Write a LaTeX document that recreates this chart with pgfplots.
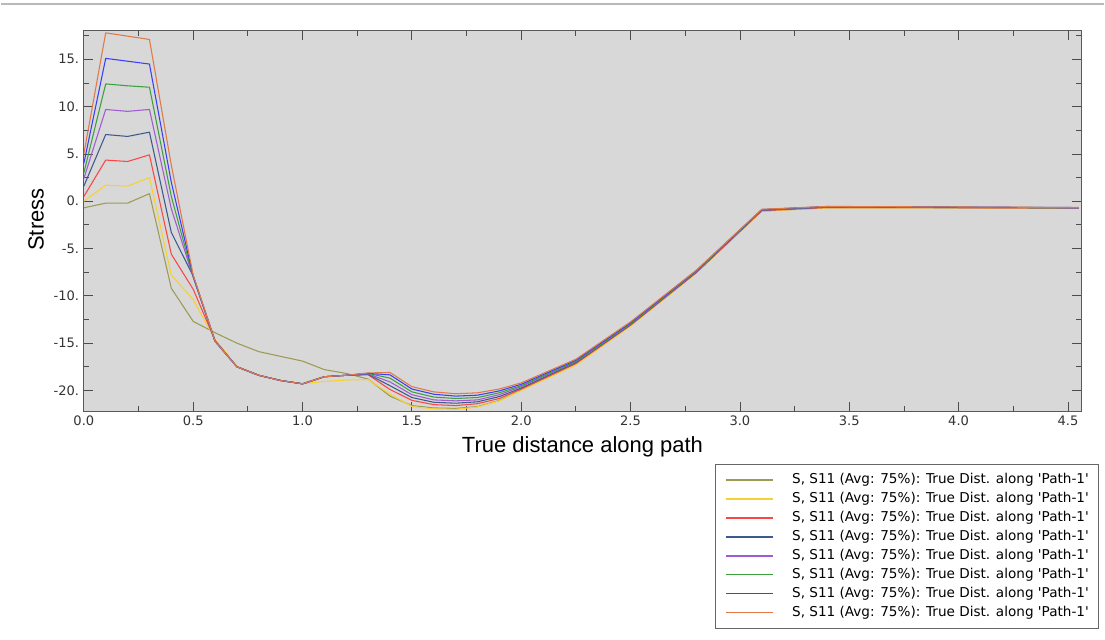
\documentclass[border=0pt]{standalone}
\usepackage{fontspec}
\usepackage{pgfplots}
\usepackage{pgfplotstable}
\pgfplotsset{compat=1.18}
\newfontfamily\vfont{DejaVu Sans}
\newfontfamily\afont{Liberation Sans}
\definecolor{bggray}{RGB}{216,216,216}
\definecolor{cOl}{RGB}{155,155,85}
\definecolor{cYe}{RGB}{245,210,50}
\definecolor{cRe}{RGB}{250,70,70}
\definecolor{cDb}{RGB}{60,90,140}
\definecolor{cPu}{RGB}{160,90,210}
\definecolor{cGr}{RGB}{60,160,60}
\definecolor{cBl}{RGB}{60,60,250}
\definecolor{cOr}{RGB}{225,120,70}
\pgfplotstableread{
x     ol      ye      re      db      pu      gr      bl      or
0.0   -0.7    0.0     0.5     1.6     2.4     3.0     4.0     5.0
0.1   -0.2    1.7     4.35    7.05    9.7     12.4    15.1    17.8
0.2   -0.2    1.6     4.2     6.85    9.5     12.2    14.8    17.45
0.3    0.8    2.5     4.9     7.3     9.7     12.05   14.5    17.1
0.4   -9.2   -7.8    -5.6    -3.3    -0.8     0.5     2.0     3.8
0.5  -12.7  -10.4    -9.3    -7.9    -8.0    -8.0    -7.9    -7.8
0.6  -13.9  -14.6   -14.7   -14.8   -14.8   -14.8   -14.8   -14.8
0.7  -15.0  -17.45  -17.5   -17.5   -17.5   -17.5   -17.5   -17.5
0.8  -15.9  -18.4   -18.4   -18.4   -18.4   -18.4   -18.4   -18.4
0.9  -16.4  -18.95  -18.95  -18.95  -18.95  -18.95  -18.95  -18.95
1.0  -16.9  -19.3   -19.3   -19.3   -19.3   -19.3   -19.3   -19.3
1.1  -17.8  -19.05  -18.55  -18.55  -18.55  -18.55  -18.55  -18.55
1.2  -18.2  -18.9   -18.4   -18.4   -18.4   -18.4   -18.4   -18.4
1.3  -18.8  -18.85  -18.35  -18.3   -18.25  -18.2   -18.2   -18.15
1.4  -20.6  -20.4   -19.9   -19.5   -19.1   -18.7   -18.35  -18.1
1.5  -21.6  -21.7   -21.05  -20.75  -20.45  -20.15  -19.85  -19.6
1.6  -21.85 -21.95  -21.5   -21.25  -21.0   -20.7   -20.4   -20.15
1.7  -21.9  -22.0   -21.6   -21.35  -21.1   -20.85  -20.6   -20.35
1.8  -21.7  -21.75  -21.4   -21.2   -21.0   -20.75  -20.5   -20.25
1.9  -21.05 -21.1   -20.85  -20.65  -20.45  -20.25  -20.05  -19.85
2.0  -19.95 -20.0   -19.85  -19.75  -19.6   -19.5   -19.35  -19.2
2.25 -17.25 -17.3   -17.15  -17.05  -16.95  -16.9   -16.8   -16.7
2.5  -13.15 -13.2   -13.1   -13.05  -13.0   -12.95  -12.85  -12.75
2.8  -7.6   -7.6    -7.55   -7.5    -7.45   -7.4    -7.35   -7.3
3.1  -1.05  -1.05   -1.0    -0.97   -0.94   -0.91   -0.88   -0.85
3.4  -0.7   -0.7    -0.66   -0.63   -0.6    -0.58   -0.56   -0.55
4.55 -0.72  -0.72   -0.71   -0.7    -0.69   -0.68   -0.67   -0.66
}\datatable
\begin{document}
\begin{tikzpicture}
\begin{axis}[
  at={(0pt,0pt)}, anchor=south west,
  scale only axis, width=749.25pt, height=285.75pt,
  xmin=0, xmax=4.56, ymin=-22.2, ymax=18,
  axis background/.style={fill=bggray},
  axis line style={draw=black!65, line width=0.8pt},
  xtick={0,0.5,1,1.5,2,2.5,3,3.5,4,4.5},
  xticklabels={0.0,0.5,1.0,1.5,2.0,2.5,3.0,3.5,4.0,4.5},
  minor xtick={0.25,0.75,1.25,1.75,2.25,2.75,3.25,3.75,4.25},
  ytick={-20,-15,-10,-5,0,5,10,15},
  yticklabels={-20.,-15.,-10.,-5.,0.,5.,10.,15.},
  minor ytick={-17.5,-12.5,-7.5,-2.5,2.5,7.5,12.5,17.5},
  tick align=inside, tick pos=both,
  major tick length=6.75pt, minor tick length=3.75pt,
  tick style={black!70, line width=0.6pt},
  ticklabel style={font=\vfont\fontsize{9.8}{11}\selectfont, text=black!80},
  xlabel={True distance along path},
  ylabel={Stress},
  label style={font=\afont\fontsize{16.5}{18}\selectfont, text=black},
  xlabel style={at={(axis description cs:0.5,0)}, anchor=center, yshift=-27pt},
  ylabel style={at={(axis description cs:-0.048,0.504)}, anchor=center},
  legend style={at={(1.018,-0.138)}, anchor=north east,
    font=\vfont\fontsize{10.2}{12}\selectfont, draw=black!60, fill=white,
    inner xsep=7.5pt, inner ysep=7pt, row sep=4.25pt, column sep=14pt,
    nodes={inner sep=0pt, text height=7.5pt, text depth=2.5pt}},
  legend cell align=left,
  legend image code/.code={\draw[#1, line width=1pt] (0pt,0pt) -- (35pt,0pt);},
  every axis plot/.append style={line width=0.8pt, line join=round},
]
\addplot[cOl] table[x=x,y=ol]{\datatable};
\addplot[cYe] table[x=x,y=ye]{\datatable};
\addplot[cRe] table[x=x,y=re]{\datatable};
\addplot[cDb] table[x=x,y=db]{\datatable};
\addplot[cPu] table[x=x,y=pu]{\datatable};
\addplot[cGr] table[x=x,y=gr]{\datatable};
\addplot[cBl] table[x=x,y=bl]{\datatable};
\addplot[cOr] table[x=x,y=or]{\datatable};
\legend{S{,} S11 (Avg: 75\%): True Dist. along 'Path-1',
        S{,} S11 (Avg: 75\%): True Dist. along 'Path-1',
        S{,} S11 (Avg: 75\%): True Dist. along 'Path-1',
        S{,} S11 (Avg: 75\%): True Dist. along 'Path-1',
        S{,} S11 (Avg: 75\%): True Dist. along 'Path-1',
        S{,} S11 (Avg: 75\%): True Dist. along 'Path-1',
        S{,} S11 (Avg: 75\%): True Dist. along 'Path-1',
        S{,} S11 (Avg: 75\%): True Dist. along 'Path-1'}
\end{axis}
\draw[gray!55, line width=1.5pt] (-62.25pt,306pt) -- (766.5pt,306pt);
\path[use as bounding box] (-62.25pt,-171.75pt) rectangle (766.5pt,309pt);
\end{tikzpicture}
\end{document}
